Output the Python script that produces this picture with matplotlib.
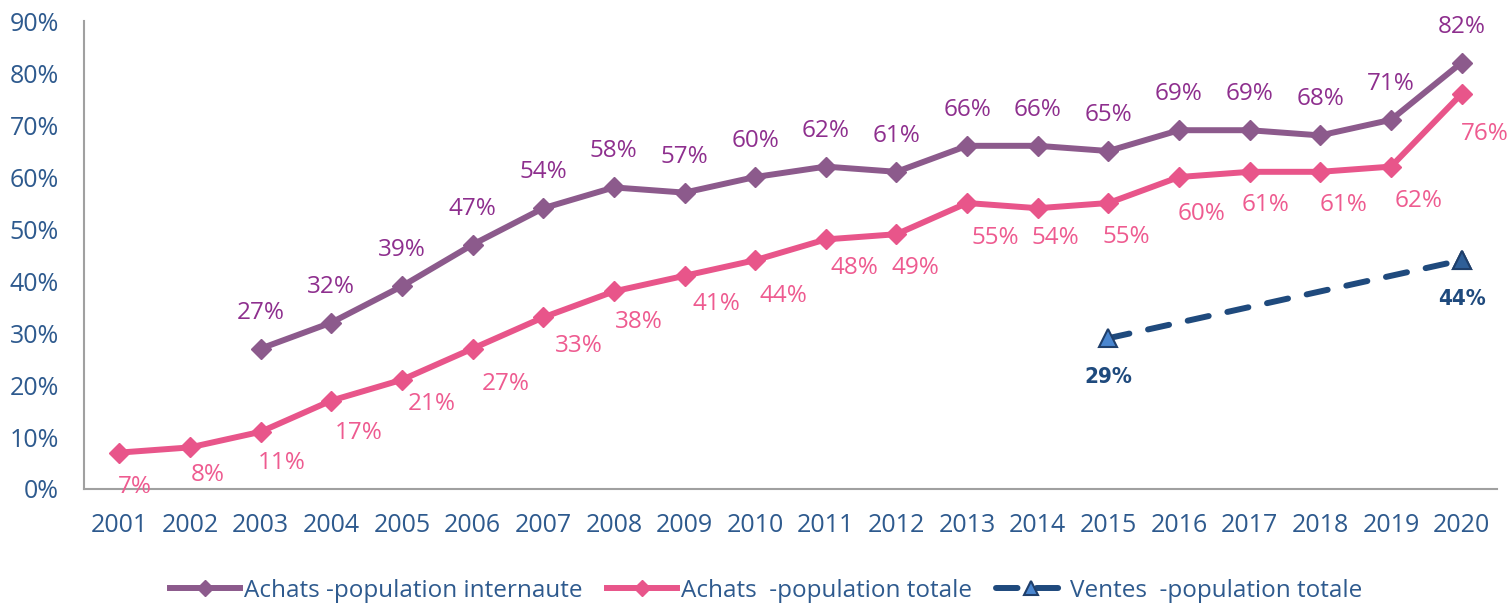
import matplotlib
matplotlib.use('Agg')
import matplotlib.pyplot as plt
import numpy as np

plt.rcParams['font.family'] = ['Open Sans', 'DejaVu Sans']

years = list(range(2001, 2021))

# Achats - population internaute (starts in 2003)
internaute_years = list(range(2003, 2021))
internaute = [27, 32, 39, 47, 54, 58, 57, 60, 62, 61, 66, 66, 65, 69, 69, 68, 71, 82]

# Achats - population totale
totale = [7, 8, 11, 17, 21, 27, 33, 38, 41, 44, 48, 49, 55, 54, 55, 60, 61, 61, 62, 76]

# Ventes - population totale
ventes_years = [2015, 2020]
ventes = [29, 44]

# label offsets for the pink series (pixels, right / down)
pink_dx = [16, 18, 21, 27, 30, 33, 36, 25, 32, 28, 29, 19, 28, 18, 18, 23, 16, 23, 28, 23]
pink_dy = [34, 28, 31, 32, 24, 35, 29, 31, 28, 36, 29, 34, 35, 30, 34, 37, 33, 33, 34, 40]

c_purple = '#8C5A8C'
c_purple_txt = '#8E2F8E'
c_pink = '#E8558A'
c_pink_txt = '#EE5B90'
c_navy = '#1F4A7D'
c_tick = '#2E5A8E'

fig = plt.figure(figsize=(15.11, 6.04), dpi=100)
ax = fig.add_axes([0.0556, 0.1904, 0.9351, 0.7748])

ax.plot(internaute_years, internaute, color=c_purple, lw=4.3, marker='D', ms=10,
        label='Achats -population internaute', zorder=3)
ax.plot(years, totale, color=c_pink, lw=4.3, marker='D', ms=10,
        label='Achats  -population totale', zorder=3)
ax.plot(ventes_years, ventes, color=c_navy, lw=4.3, ls=(0, (3.6, 3.2)),
        dash_capstyle='round', marker='^', ms=13, mfc='#4A86CF', mec='#1F3F6B',
        mew=1.5, label='Ventes  -population totale', zorder=3)
# second triangle is darker in the reference
ax.plot(ventes_years[1:], ventes[1:], ls='none', marker='^', ms=13, mfc='#2F5F98',
        mec='#1F3F6B', mew=1.5, zorder=4)

for x, v in zip(internaute_years, internaute):
    ax.annotate(f'{v}%', (x, v), xytext=(0, 36), textcoords='offset pixels',
                ha='center', va='center', fontsize=17.5, color=c_purple_txt)

for x, v, dx, dy in zip(years, totale, pink_dx, pink_dy):
    ax.annotate(f'{v}%', (x, v), xytext=(dx, -dy), textcoords='offset pixels',
                ha='center', va='center', fontsize=17.5, color=c_pink_txt)

for x, v in zip(ventes_years, ventes):
    ax.annotate(f'{v}%', (x, v), xytext=(0, -39), textcoords='offset pixels',
                ha='center', va='center', fontsize=16, fontweight='bold',
                fontstretch='condensed', color=c_navy, family='DejaVu Sans')

ax.set_xlim(2000.5, 2020.5)
ax.set_ylim(0, 90)
ax.set_xticks(years)
ax.set_yticks(range(0, 91, 10))
ax.set_yticklabels([f'{t}%' for t in range(0, 91, 10)])
ax.tick_params(length=0, labelsize=18, colors=c_tick)
ax.tick_params(axis='x', pad=17)
ax.tick_params(axis='y', pad=18)

for s in ['top', 'right']:
    ax.spines[s].set_visible(False)
for s in ['left', 'bottom']:
    ax.spines[s].set_color('#A0A0A0')
    ax.spines[s].set_linewidth(1.5)

leg = fig.legend(loc='center', bbox_to_anchor=(0.507, 0.022), ncol=3, frameon=False,
                 fontsize=17.5, handlelength=2.9, handletextpad=0.15, columnspacing=1.0,
                 markerscale=0.8)
for t in leg.get_texts():
    t.set_color(c_tick)

fig.savefig('out.png', dpi=100)
